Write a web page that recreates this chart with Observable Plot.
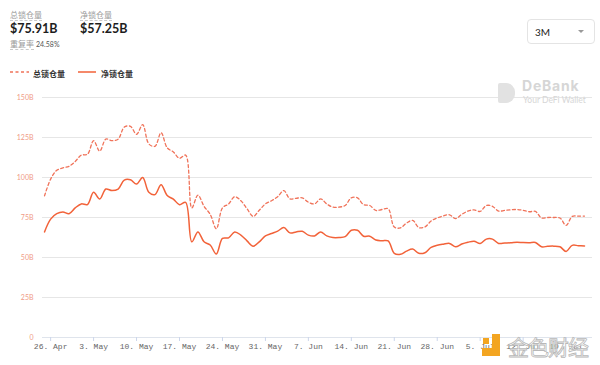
<!DOCTYPE html>
<html>
<head>
<meta charset="utf-8">
<script src="https://cdn.jsdelivr.net/npm/d3@7"></script>
<script src="https://cdn.jsdelivr.net/npm/@observablehq/plot@0.6"></script>
<style>
  html, body { margin: 0; padding: 0; background: #fff; }
  #wrap { position: relative; width: 600px; height: 365px; overflow: hidden; font-family: Lato, "Noto Sans CJK SC", sans-serif; }
  .abs { position: absolute; white-space: nowrap; }
  .lbl { font-size: 8px; color: #9a9a9a; border-bottom: 1px dashed #c8c8c8; line-height: 9px; }
  .big { font-size: 12.5px; font-weight: 700; color: #1d1d1d; }
  .leg { font-size: 8px; font-weight: 700; color: #333; }
  #chart { position: absolute; left: 0; top: 85px; }
  .wm { pointer-events: none; }
</style>
</head>
<body>
<div id="wrap">
  <div class="abs lbl" style="left:10px; top:11px;">总锁仓量</div>
  <div class="abs big" style="left:10px; top:21px;">$75.91B</div>
  <div class="abs lbl" style="left:80px; top:11px;">净锁仓量</div>
  <div class="abs big" style="left:80px; top:21px;">$57.25B</div>
  <div class="abs lbl" style="left:10px; top:40px;">重复率</div>
  <div class="abs" style="left:36px; top:40px; font-size:7px; color:#555;">24.58%</div>

  <div class="abs" style="left:527px; top:19px; width:68px; height:25px; border:1px solid #e4e4e4; border-radius:4px; box-sizing:border-box;"></div>
  <div class="abs" style="left:535px; top:26px; font-size:10px; color:#222;">3M</div>
  <svg class="abs" style="left:577px; top:29px;" width="8" height="6"><path d="M1,1 L4,4 L7,1 Z" fill="#999"/></svg>

  <svg class="abs" style="left:10px; top:69px;" width="20" height="6"><line x1="0" y1="3" x2="19" y2="3" stroke="#f0735a" stroke-width="1.3" stroke-dasharray="3,2.5"/></svg>
  <div class="abs leg" style="left:33px; top:68px;">总锁仓量</div>
  <svg class="abs" style="left:78px; top:69px;" width="20" height="6"><line x1="0" y1="3" x2="18" y2="3" stroke="#f26239" stroke-width="1.5"/></svg>
  <div class="abs leg" style="left:101px; top:68px;">净锁仓量</div>

  <div id="chart"></div>

  <div class="abs wm" style="left:498px; top:83px; width:17px; height:20px; background:#e2e2e2; border-radius:2px 9px 9px 2px;"></div>
  <div class="abs wm" style="left:522px; top:80px; font-size:14px; line-height:12px; font-weight:700; color:#d6d6d6; font-family:Inter, sans-serif; letter-spacing:0.8px;">DeBank</div>
  <div class="abs wm" style="left:523px; top:96px; font-size:8.5px; line-height:8px; color:#d6d6d6;">Your DeFi Wallet</div>

  <div class="abs wm" style="left:482px; top:334px; width:22px; height:22px;">
    <div class="abs" style="left:10px; top:0px; width:8px; height:18px; background:#f3a521;"></div>
    <div class="abs" style="left:0px; top:14px; width:18px; height:8px; background:#f3a521;"></div>
    <div class="abs" style="left:1px; top:4px; width:6px; height:6px; background:#f3a521;"></div>
  </div>
  <div class="abs wm" style="left:508px; top:331px; font-size:21px; color:rgba(255,255,255,0.75); -webkit-text-stroke:0.8px #b8b8b8; font-family:'Noto Sans CJK SC', sans-serif; letter-spacing:-1px;">金色财经</div>
</div>
<script>
// Data: daily values, 25 Apr – 22 Jul (billions USD)
const startDate = "2021-04-25";
const endDate = "2021-07-23";
const totalTVL = [
  88.5, 99, 104.5, 106, 107, 110, 114, 114.5, 123, 116.5,
  124, 123, 124, 131.5, 132, 127, 133, 121, 119.5, 128,
  118.5, 116, 112, 114, 81, 89, 82, 77, 68, 81,
  83.5, 88, 85.5, 80.5, 75.7, 79.5, 83.5, 85.5, 88, 91.8,
  86.6, 87, 87.3, 84.6, 83.5, 86.6, 83.5, 81.5, 81.5, 82.5,
  87.3, 87.3, 83, 82.5, 79.4, 80, 80.5, 69, 68.5, 71.5,
  73.2, 68.7, 69.1, 72.8, 74.7, 76, 76.7, 74.3, 77, 79,
  79.8, 78.8, 82.5, 82, 79, 79.5, 79.8, 80, 79.5, 78.6,
  78.8, 74.7, 75, 75, 74.7, 70.1, 75.7, 75.9, 75.91
];
const netTVL = [
  66, 74, 77.4, 78.4, 77.4, 81, 83.5, 83.1, 90.8, 86.6,
  92.8, 91.8, 92.8, 98.4, 98.6, 95.9, 100, 90.8, 89.3, 95.5,
  88.7, 86.5, 83, 84.5, 59.8, 66, 59.8, 57.8, 52.2, 61.9,
  62.3, 66, 64, 60.4, 57.1, 59.8, 63.5, 65, 66.5, 68.7,
  65.4, 66, 66.4, 64, 63.5, 66, 63.5, 62.5, 62.5, 63,
  67, 67, 63.3, 63.3, 60.9, 60.5, 60.4, 52.6, 52, 54,
  55.3, 52.6, 53, 56.3, 57.6, 58.3, 58.8, 56.7, 58.4, 59.5,
  60.2, 58.8, 61.5, 61.5, 58.8, 59, 59.2, 59.6, 59.3, 59.2,
  59.4, 56.7, 57, 57.1, 56.7, 53.8, 57.6, 57.4, 57.25
];
const xTickDates = ["2021-04-26","2021-05-03","2021-05-10","2021-05-17","2021-05-24","2021-05-31","2021-06-07","2021-06-14","2021-06-21","2021-06-28","2021-07-05","2021-07-12","2021-07-19"];
const yTicks = [0, 25, 50, 75, 100, 125, 150];

const dates = d3.utcDay.range(new Date(startDate), new Date(endDate));
const rows = dates.map((d, i) => ({date: d, total: totalTVL[i], net: netTVL[i]}));
const ticks = xTickDates.map(s => new Date(s));
const fmt = d3.utcFormat("%-d. %b");

const chart = Plot.plot({
  width: 600,
  height: 280,
  marginLeft: 42,
  marginRight: 8,
  marginTop: 12,
  marginBottom: 28,
  insetLeft: 2,
  insetRight: 8,
  style: {background: "transparent", overflow: "visible"},
  x: {type: "utc", domain: [dates[0], dates[dates.length - 1]]},
  y: {domain: [0, 150]},
  marks: [
    Plot.gridY(yTicks.filter(v => v > 0), {stroke: "#e6e6e6", strokeOpacity: 1, strokeWidth: 1}),
    Plot.ruleY([0], {stroke: "#dfe4ec", strokeWidth: 1}),
    Plot.axisY(yTicks, {
      tickSize: 0, tickPadding: 9, fontSize: 7, fill: "#f09b86",
      tickFormat: d => d === 0 ? "0" : d + "B", label: null,
      fontFamily: "Lato, sans-serif"
    }),
    Plot.axisX(ticks, {
      tickSize: 4, tickPadding: 2, stroke: "#ccd6eb", fontSize: 8, fill: "#666",
      tickFormat: fmt, label: null, fontFamily: "'Liberation Mono', monospace"
    }),
    Plot.lineY(rows, {x: "date", y: "total", stroke: "#f0735a", strokeWidth: 1.3, strokeDasharray: "3,2.5", curve: "catmull-rom"}),
    Plot.lineY(rows, {x: "date", y: "net", stroke: "#f26239", strokeWidth: 1.5, curve: "catmull-rom"})
  ]
});
document.getElementById("chart").appendChild(chart);
</script>
</body>
</html>
